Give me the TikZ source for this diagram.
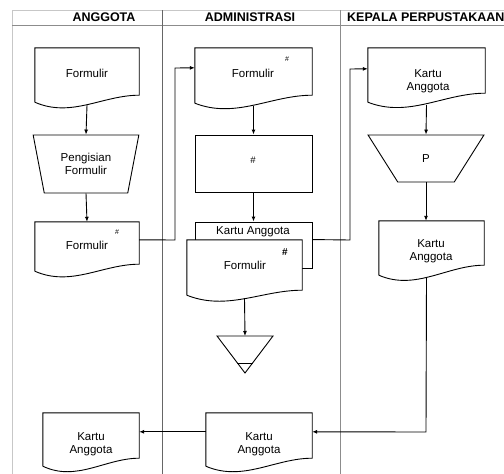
\documentclass[tikz,border=0pt]{standalone}
\usepackage{fontspec}
\setmainfont{Liberation Sans}
\usetikzlibrary{arrows.meta,calc,shapes.geometric}
\newcommand\docdraw[2]{%
  \draw[shp,fill=white] (#1.south west) -- (#1.north west) -- (#1.north east) -- ($(#1.south east)+(0,-#2)$)
    .. controls ($(#1.south east)!0.35!(#1.south west)+(0,-#2)$) and ($(#1.south east)!0.65!(#1.south west)+(0,16)$) .. (#1.south west);
}
\begin{document}
\begin{tikzpicture}[x=1pt,y=-1pt,
  shp/.style={draw=black, line width=0.9pt},
  docn/.style={rectangle, inner sep=0pt, align=center},
  arr/.style={draw=black, line width=0.9pt, -{Latex[length=5pt,width=4pt]}},
  hdr/.style={font=\fontsize{12.5}{14}\selectfont\bfseries, inner sep=0pt},
  hash/.style={font=\fontsize{7}{8}\selectfont, inner sep=0pt},
  txt/.style={font=\fontsize{11.5}{13.5}\selectfont, inner sep=0pt, align=center},
  trap/.style={shape=trapezium, shape border rotate=180, trapezium stretches=true, draw=black, line width=0.9pt, inner sep=0pt, align=center, font=\fontsize{11.5}{13.5}\selectfont},
  lane/.style={line width=0.8pt}
]
\useasboundingbox (0,0) rectangle (504,474);
% swimlanes
\draw[lane, draw=black!22] (12,10) -- (504,10);
\draw[lane, draw=black!22] (12,10) -- (12,474);
\draw[lane, draw=black!45] (12,25) -- (504,25);
\draw[lane, draw=black!60] (162,10) -- (162,474);
\draw[lane, draw=black!45] (340,10) -- (340,474);
\node[hdr] (h1) at (104,17) {ANGGOTA};
\node[hdr] (h2) at (250,17) {ADMINISTRASI};
\begin{scope}
\clip (340,0) rectangle (504,30);
\node[hdr, anchor=west] (h3) at (347,17) {KEPALA PERPUSTAKAAN};
\end{scope}

% lane 1
\node[docn, minimum width=104pt, minimum height=54pt] (fa1) at (87,75) {};
\docdraw{fa1}{7}
\node[txt] (fa1t) at (87,73) {Formulir};
\node[trap, minimum width=106pt, minimum height=58pt, trapezium angle=73] (t1) at (86,164) {Pengisian\\Formulir};
\node[docn, minimum width=104pt, minimum height=49pt] (f1b) at (87,246.5) {};
\docdraw{f1b}{7}
\node[txt] (f1bt) at (87,245) {Formulir};
\node[hash] (f1bh) at (117,232) {\#};

% lane 2
\node[docn, minimum width=117pt, minimum height=55pt] (f2) at (253.5,75.5) {};
\docdraw{f2}{8}
\node[txt] (f2t) at (253,73) {Formulir};
\node[hash] (f2h) at (287,59) {\#};
\node[shp, rectangle, minimum width=117pt, minimum height=57pt, inner sep=0pt] (r2) at (253.5,163.5) {};
\node[hash, font=\fontsize{9.5}{10}\selectfont] (r2h) at (253,160) {\#};
\node[shp, rectangle, fill=white, minimum width=117pt, minimum height=46pt, inner sep=0pt] (ka2) at (253.5,245) {};
\node[txt] (ka2t) at (253,232) {Kartu Anggota};
\node[docn, minimum width=115pt, minimum height=55pt] (ff2) at (244.5,267.5) {};
\docdraw{ff2}{5}
\node[txt] (ff2t) at (245,265) {Formulir};
\node[hash, font=\fontsize{10}{11}\selectfont\bfseries] (ff2h) at (285,252) {\#};
\coordinate (tri) at (245,336);
\draw[shp] (217,336) -- (273,336) -- (245,373) -- cycle;
\draw[shp] (237.4,363) -- (252.6,363);

% lane 3
\node[docn, minimum width=117pt, minimum height=54pt] (k1) at (426.5,75) {};
\docdraw{k1}{9}
\node[txt] (k1t) at (428,81) {Kartu\\Anggota};
\node[trap, minimum width=116pt, minimum height=47pt, trapezium angle=63] (tp) at (426,158.5) {P};
\node[docn, minimum width=105pt, minimum height=54pt] (k2) at (431.5,248) {};
\docdraw{k2}{10}
\node[txt] (k2t) at (431,251) {Kartu\\Anggota};

% bottom
\node[docn, minimum width=106pt, minimum height=53pt] (k3) at (259,439.5) {};
\docdraw{k3}{8}
\node[txt] (k3t) at (259,444) {Kartu\\Anggota};
\node[docn, minimum width=96pt, minimum height=53pt] (k4) at (91,439.5) {};
\docdraw{k4}{8}
\node[txt] (k4t) at (91,444) {Kartu\\Anggota};

% connectors
\draw[arr] ($(fa1.south)+(0,3)$) -- (t1.north);
\draw[arr] (t1.south) -- (f1b.north);
\draw[arr] ($(f1b.north east)+(0,18)$) -- (175,240) -- (175,68) -- ($(f2.north west)+(0,20)$);
\draw[arr] ($(f2.south)+(0,3)$) -- (r2.north);
\draw[arr] (r2.south) -- (ka2.north);
\draw[arr] ($(ff2.south)+(0,3)$) -- (tri);
\draw[arr] ($(ka2.north east)+(0,18)$) -- (350,240) -- (350,69) -- ($(k1.north west)+(0,21)$);
\draw[arr] ($(k1.south)+(0,3)$) -- (tp.north);
\draw[arr] (tp.south) -- (tp.south |- k2.north);
\draw[arr] ($(k2.south)+(-5,3)$) -- (426,432) -- ($(k3.north east)+(0,19)$);
\draw[arr] ($(k3.north west)+(0,19)$) -- ($(k4.north east)+(0,19)$);
\end{tikzpicture}
\end{document}
